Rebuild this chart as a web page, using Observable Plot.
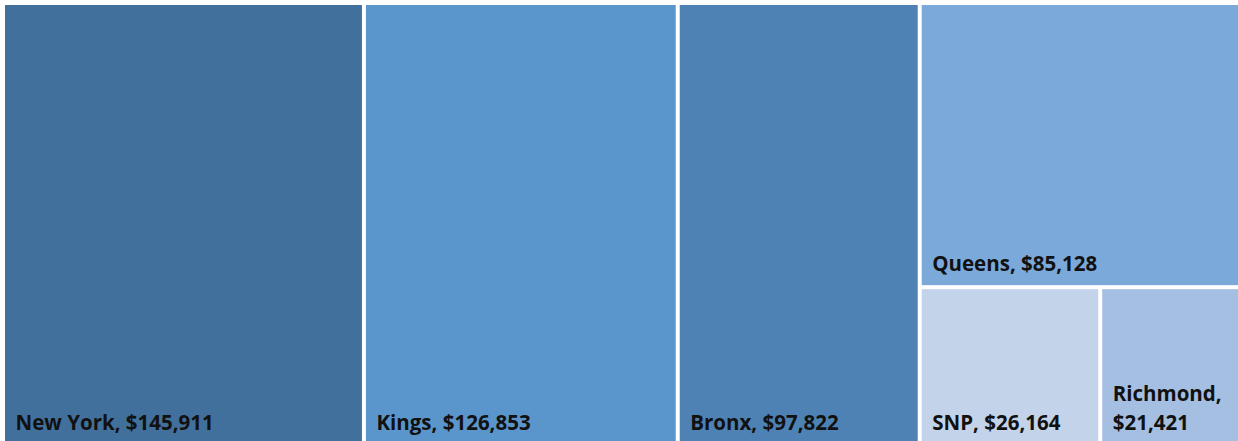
<!DOCTYPE html>
<html><head><meta charset="utf-8">
<script src="https://cdn.jsdelivr.net/npm/d3@7"></script>
<script src="https://cdn.jsdelivr.net/npm/@observablehq/plot@0.6"></script>
<style>body{margin:0;background:#fff;overflow:hidden}</style>
</head><body><div id="chart"></div>
<script>
const names = ["New York", "Kings", "Bronx", "Queens", "SNP", "Richmond"];
const values = [145911, 126853, 97822, 85128, 26164, 21421];
const palette = ["#42709C", "#5A95CB", "#4E82B4", "#7BA9DA", "#C3D4EA", "#A4BFE2"];

const W = 1238, H = 441;
const root = d3.hierarchy({children: names.map((n, i) => ({name: n, value: values[i]}))})
  .sum(d => d.value || 0)
  .sort((a, b) => b.value - a.value);
d3.treemap().tile(d3.treemapSquarify.ratio(1)).size([1241, 439]).paddingInner(4).round(false)(root);
const cells = root.leaves().map(d => ({
  name: d.data.name, value: d.data.value,
  x0: d.x0 + 5, x1: d.x1 + 5, y0: d.y0 + 5, y1: d.y1 + 5
}));
const fmt = d3.format(",");
const label = d => `${d.name}, $${fmt(d.value)}`;
const wide = cells.filter(d => d.x1 - d.x0 >= 160);
const narrow = cells.filter(d => d.x1 - d.x0 < 160);
const textOpts = {
  x: d => d.x0 + 10, y: d => d.y1 - 15, text: label,
  textAnchor: "start", lineAnchor: "bottom", fill: "#111",
  fontSize: 20.5, fontWeight: "bold", lineHeight: 1.4
};
const chart = Plot.plot({
  width: W, height: H, margin: 0,
  style: {fontFamily: "'Open Sans', Lato, sans-serif", background: "#fff"},
  x: {type: "identity", axis: null},
  y: {type: "identity", axis: null},
  color: {domain: names, range: palette},
  marks: [
    Plot.rect(cells, {x1: "x0", x2: "x1", y1: "y0", y2: "y1", fill: "name"}),
    Plot.text(wide, textOpts),
    Plot.text(narrow, {...textOpts, lineWidth: 5.5})
  ]
});
document.getElementById("chart").append(chart);
</script>
</body></html>
